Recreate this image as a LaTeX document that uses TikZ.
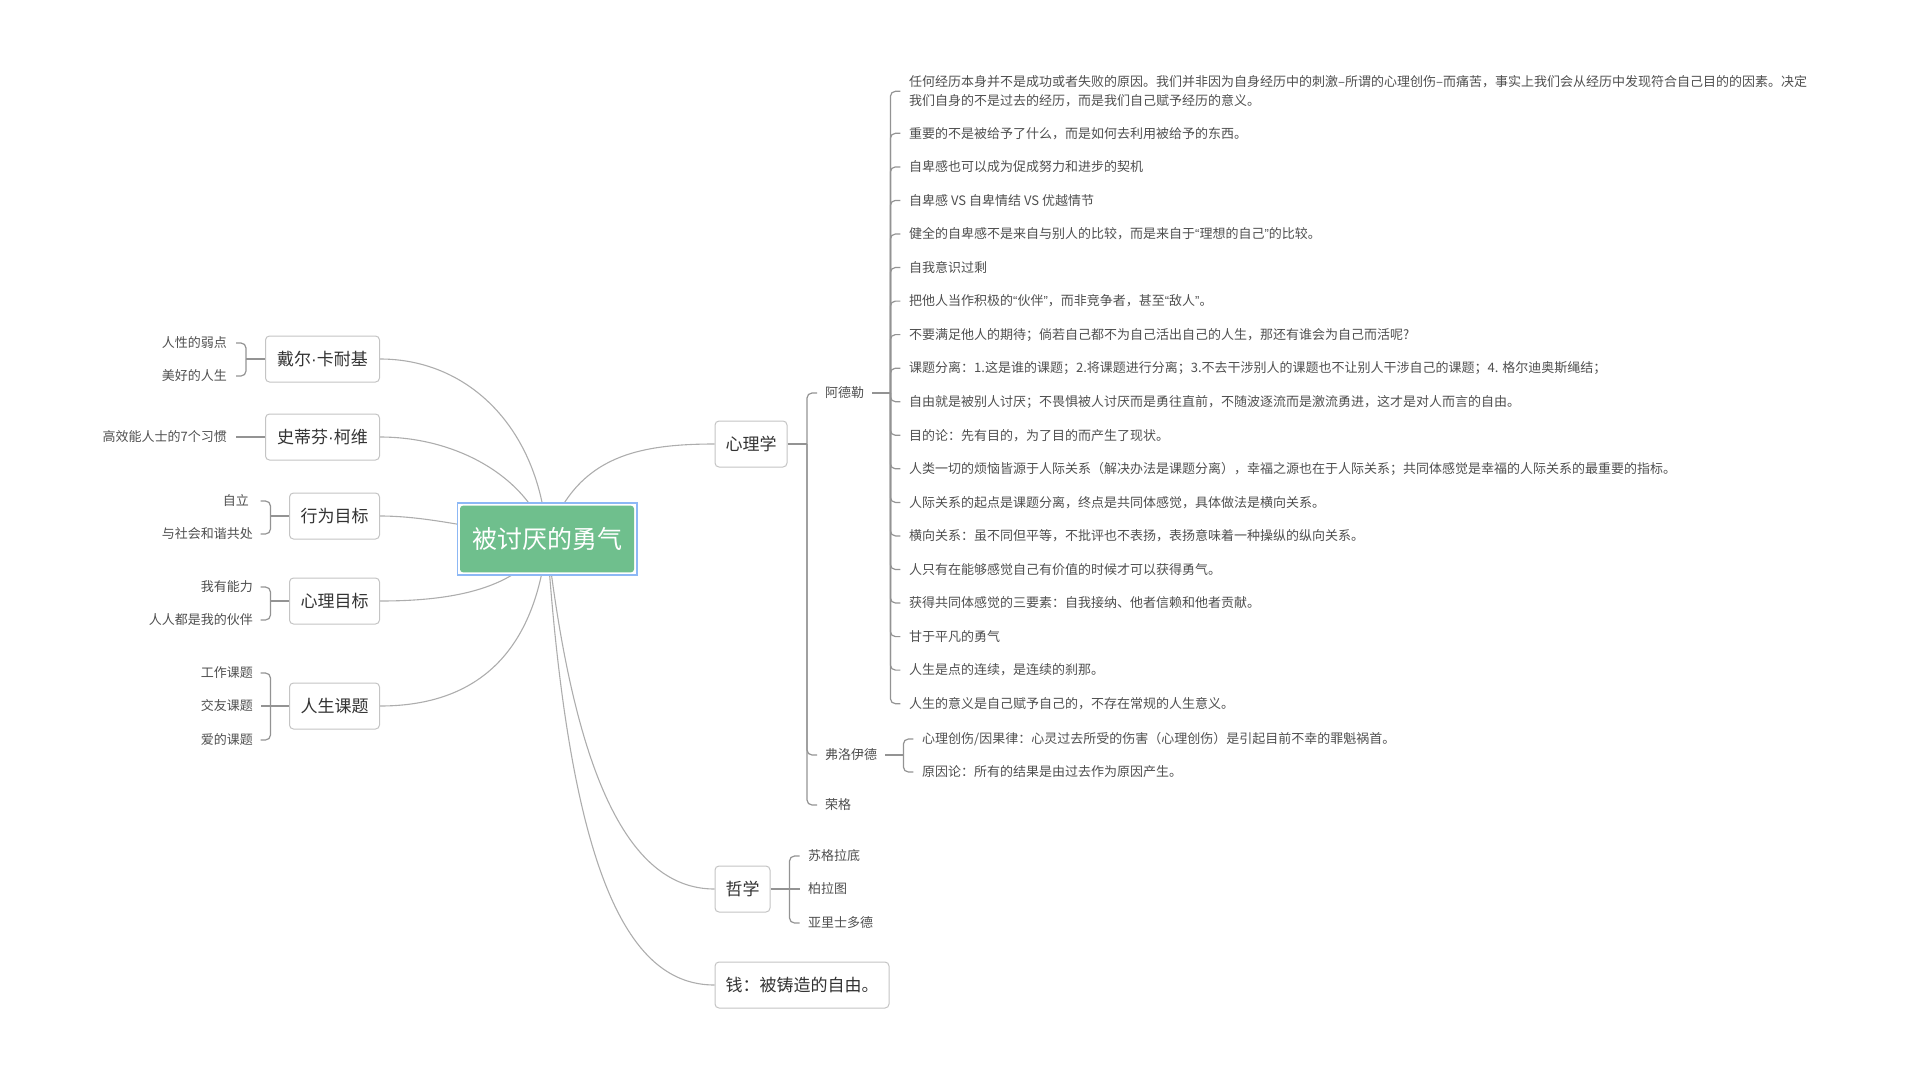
\documentclass[tikz,border=0pt]{standalone}
\usepackage{fontspec}
\setmainfont{Noto Sans CJK SC}
\newfontfamily\latinf{Liberation Sans}
\usetikzlibrary{backgrounds,calc}
\definecolor{curvec}{HTML}{ADADAD}
\definecolor{brkc}{HTML}{939393}
\definecolor{boxc}{HTML}{C4C4C4}
\definecolor{leafc}{HTML}{4F4F4F}
\definecolor{topicc}{HTML}{333333}
\definecolor{rootg}{HTML}{6FBF8D}
\definecolor{rootb}{HTML}{8DB8F5}
\newcommand{\mydot}{{\latinf ·}}
\newcommand{\myoq}{{\latinf “}}
\newcommand{\mycq}{{\latinf ”}}
\begin{document}
\begin{tikzpicture}[x=1pt,y=-1pt,
  leaf/.style={inner sep=0pt, text=leafc, font=\fontsize{13pt}{18.7pt}\selectfont},
  topic/.style={draw=boxc, line width=1pt, rounded corners=4pt, fill=white, text=topicc,
    inner xsep=10.5pt, inner ysep=0pt, minimum height=46pt, font=\fontsize{17pt}{20pt}\selectfont},
  rootnode/.style={fill=rootg, rounded corners=3pt, text=white, inner sep=0pt,
    minimum width=174pt, minimum height=66.6pt, font=\fontsize{25pt}{28pt}\selectfont},
  rootframe/.style={draw=rootb, line width=1.5pt, fill=white, inner sep=0pt,
    minimum width=179.5pt, minimum height=71.6pt},
  curve/.style={draw=curvec, line width=1.1pt},
  brk/.style={draw=brkc, line width=1.2pt, rounded corners=5pt},
]
\useasboundingbox (0,0) rectangle (1910,1084);

% ---------- root ----------
\node[rootframe] (rootf) at (547,539) {};
\node[rootnode] (root) at (547,539) {被讨厌的勇气};

% ---------- left topics ----------
\node[topic, anchor=east, minimum width=114pt] (carnegie) at (380,359) {戴尔\mydot 卡耐基};
\node[topic, anchor=east, minimum width=114pt] (covey) at (380,437) {史蒂芬\mydot 柯维};
\node[topic, anchor=east, minimum width=90pt] (behav) at (380,516) {行为目标};
\node[topic, anchor=east, minimum width=90pt] (psygoal) at (380,601) {心理目标};
\node[topic, anchor=east, minimum width=90pt] (lifetask) at (380,706) {人生课题};

% ---------- left leaves ----------
\node[leaf, anchor=east] (l1) at (227,343) {人性的弱点};
\node[leaf, anchor=east] (l2) at (227,376) {美好的人生};
\node[leaf, anchor=east] (l3) at (227,437) {高效能人士的7个习惯};
\node[leaf, anchor=east] (l4) at (249,501) {自立};
\node[leaf, anchor=east] (l5) at (253,534) {与社会和谐共处};
\node[leaf, anchor=east] (l6) at (253,587) {我有能力};
\node[leaf, anchor=east] (l7) at (253,620) {人人都是我的伙伴};
\node[leaf, anchor=east] (l8) at (253,673) {工作课题};
\node[leaf, anchor=east] (l9) at (253,706) {交友课题};
\node[leaf, anchor=east] (l10) at (253,740) {爱的课题};

% ---------- right topics ----------
\node[topic, anchor=west, minimum width=72pt] (psy) at (714.5,444) {心理学};
\node[topic, anchor=west, minimum width=55pt] (phil) at (714.5,889) {哲学};
\node[topic, anchor=west, minimum width=174pt] (money) at (714.5,985) {钱：被铸造的自由。};

% ---------- psychology subtopics ----------
\node[leaf, anchor=west] (adler) at (825,393) {阿德勒};
\node[leaf, anchor=west] (freud) at (825,755) {弗洛伊德};
\node[leaf, anchor=west] (jung) at (825,805) {荣格};

% ---------- Adler children ----------
\node[leaf, anchor=west, align=left] (a1) at (909,91.3) {任何经历本身并不是成功或者失败的原因。我们并非因为自身经历中的刺激–所谓的心理创伤–而痛苦，事实上我们会从经历中发现符合自己目的的因素。决定\\我们自身的不是过去的经历，而是我们自己赋予经历的意义。};
\node[leaf, anchor=west] (a2) at (909,133.3) {重要的不是被给予了什么，而是如何去利用被给予的东西。};
\node[leaf, anchor=west] (a3) at (909,166.9) {自卑感也可以成为促成努力和进步的契机};
\node[leaf, anchor=west] (a4) at (909,200.4) {自卑感 VS 自卑情结 VS 优越情节};
\node[leaf, anchor=west] (a5) at (909,234.0) {健全的自卑感不是来自与别人的比较，而是来自于\myoq 理想的自己\mycq 的比较。};
\node[leaf, anchor=west] (a6) at (909,267.5) {自我意识过剩};
\node[leaf, anchor=west] (a7) at (909,301.1) {把他人当作积极的\myoq 伙伴\mycq ，而非竞争者，甚至\myoq 敌人\mycq 。};
\node[leaf, anchor=west] (a8) at (909,334.6) {不要满足他人的期待；倘若自己都不为自己活出自己的人生，那还有谁会为自己而活呢?};
\node[leaf, anchor=west] (a9) at (909,368.2) {课题分离：1.这是谁的课题；2.将课题进行分离；3.不去干涉别人的课题也不让别人干涉自己的课题；4. 格尔迪奥斯绳结；};
\node[leaf, anchor=west] (a10) at (909,401.7) {自由就是被别人讨厌；不畏惧被人讨厌而是勇往直前，不随波逐流而是激流勇进，这才是对人而言的自由。};
\node[leaf, anchor=west] (a11) at (909,435.3) {目的论：先有目的，为了目的而产生了现状。};
\node[leaf, anchor=west] (a12) at (909,468.8) {人类一切的烦恼皆源于人际关系（解决办法是课题分离），幸福之源也在于人际关系；共同体感觉是幸福的人际关系的最重要的指标。};
\node[leaf, anchor=west] (a13) at (909,502.4) {人际关系的起点是课题分离，终点是共同体感觉，具体做法是横向关系。};
\node[leaf, anchor=west] (a14) at (909,535.9) {横向关系：虽不同但平等，不批评也不表扬，表扬意味着一种操纵的纵向关系。};
\node[leaf, anchor=west] (a15) at (909,569.5) {人只有在能够感觉自己有价值的时候才可以获得勇气。};
\node[leaf, anchor=west] (a16) at (909,603.0) {获得共同体感觉的三要素：自我接纳、他者信赖和他者贡献。};
\node[leaf, anchor=west] (a17) at (909,636.6) {甘于平凡的勇气};
\node[leaf, anchor=west] (a18) at (909,670.1) {人生是点的连续，是连续的刹那。};
\node[leaf, anchor=west] (a19) at (909,703.7) {人生的意义是自己赋予自己的，不存在常规的人生意义。};

% ---------- Freud children ----------
\node[leaf, anchor=west] (f1) at (922,739) {心理创伤/因果律：心灵过去所受的伤害（心理创伤）是引起目前不幸的罪魁祸首。};
\node[leaf, anchor=west] (f2) at (922,772) {原因论：所有的结果是由过去作为原因产生。};

% ---------- philosophy children ----------
\node[leaf, anchor=west] (p1) at (808,856) {苏格拉底};
\node[leaf, anchor=west] (p2) at (808,889) {柏拉图};
\node[leaf, anchor=west] (p3) at (808,923) {亚里士多德};

% ---------- junctions ----------
\coordinate (Jc) at ([xshift=-19pt]carnegie.west);
\coordinate (Jb) at ([xshift=-18.5pt]behav.west);
\coordinate (Jpg) at ([xshift=-18.5pt]psygoal.west);
\coordinate (Jl) at ([xshift=-18.5pt]lifetask.west);
\coordinate (Jpsy) at ([xshift=19.5pt]psy.east);
\coordinate (Ja) at ([xshift=26pt]adler.east);
\coordinate (Jf) at ([xshift=26pt]freud.east);
\coordinate (Jph) at ([xshift=19pt]phil.east);

% ---------- curves from root ----------
\begin{scope}[on background layer]
\draw[curve] (root.center) .. controls (540,430) and (470,359) .. (carnegie.east);
\draw[curve] (root.center) .. controls (530,480) and (460,437) .. (covey.east);
\draw[curve] (root.center) .. controls (480,530) and (430,516) .. (behav.east);
\draw[curve] (root.center) .. controls (520,590) and (450,601) .. (psygoal.east);
\draw[curve] (root.center) .. controls (535,660) and (470,706) .. (lifetask.east);
\draw[curve] (root.center) .. controls (575,460) and (630,444) .. (psy.west);
\draw[curve] (root.center) .. controls (575,780) and (630,889) .. (phil.west);
\draw[curve] (root.center) .. controls (570,880) and (630,985) .. (money.west);
\end{scope}

% ---------- left brackets ----------
\draw[brk] (carnegie.west) -- (Jc);
\draw[brk] (Jc) |- ($(Jc |- l1)+(-10,0)$);
\draw[brk] (Jc) |- ($(Jc |- l2)+(-10,0)$);
\draw[brk] ($(l3.east)+(9,0)$) -- (covey.west |- l3);
\draw[brk] (behav.west) -- (Jb);
\draw[brk] (Jb) |- ($(Jb |- l4)+(-10,0)$);
\draw[brk] (Jb) |- ($(Jb |- l5)+(-10,0)$);
\draw[brk] (psygoal.west) -- (Jpg);
\draw[brk] (Jpg) |- ($(Jpg |- l6)+(-10,0)$);
\draw[brk] (Jpg) |- ($(Jpg |- l7)+(-10,0)$);
\draw[brk] (lifetask.west) -- ($(Jl |- l9)+(-10,0)$);
\draw[brk] (Jl) |- ($(Jl |- l8)+(-10,0)$);
\draw[brk] (Jl) |- ($(Jl |- l10)+(-10,0)$);

% ---------- psychology bracket ----------
\draw[brk] (psy.east) -- (Jpsy);
\foreach \c in {adler,freud,jung}
  \draw[brk] (Jpsy) |- ($(Jpsy |- \c)+(10,0)$);

% ---------- Adler bracket ----------
\draw[brk] ([xshift=8pt]adler.east) -- (Ja);
\foreach \c in {a1,a2,a3,a4,a5,a6,a7,a8,a9,a10,a11,a12,a13,a14,a15,a16,a17,a18,a19}
  \draw[brk] (Ja) |- ($(Ja |- \c)+(10,0)$);

% ---------- Freud bracket ----------
\draw[brk] ([xshift=8pt]freud.east) -- (Jf);
\draw[brk] (Jf) |- ($(Jf |- f1)+(10,0)$);
\draw[brk] (Jf) |- ($(Jf |- f2)+(10,0)$);

% ---------- philosophy bracket ----------
\draw[brk] (phil.east) -- ($(Jph |- p2)+(10,0)$);
\draw[brk] (Jph) |- ($(Jph |- p1)+(10,0)$);
\draw[brk] (Jph) |- ($(Jph |- p3)+(10,0)$);
\end{tikzpicture}
\end{document}
